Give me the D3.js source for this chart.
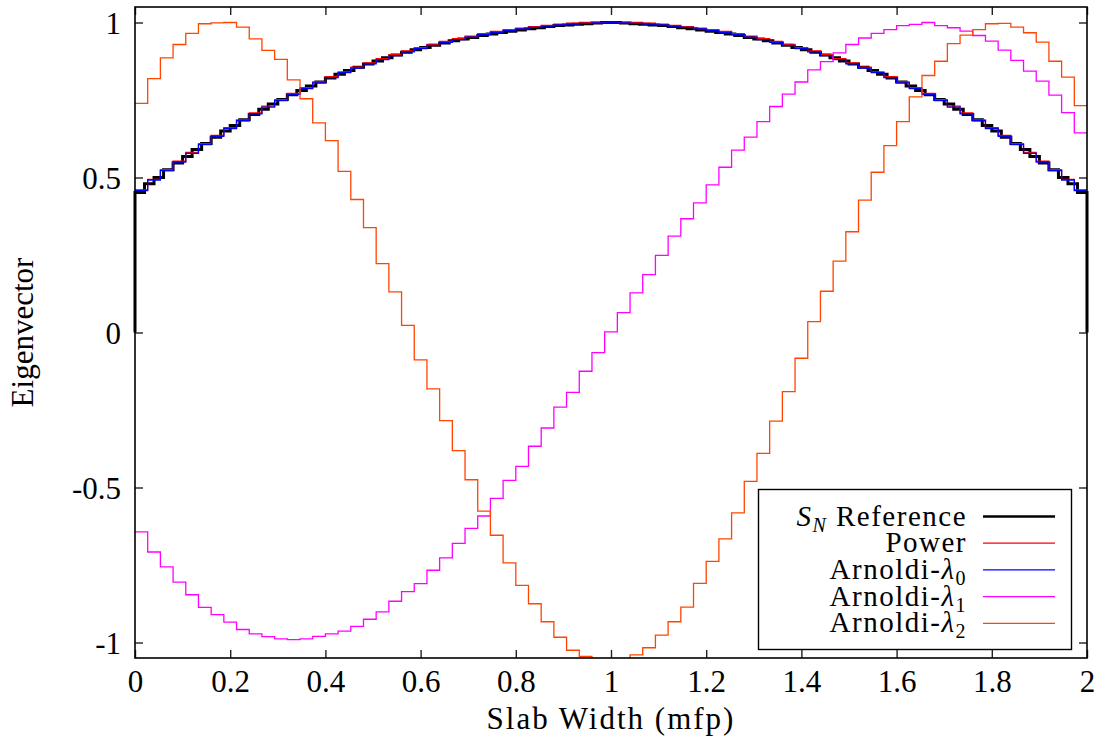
<!DOCTYPE html>
<html>
<head>
<meta charset="utf-8">
<script src="https://cdn.jsdelivr.net/npm/d3@7/dist/d3.min.js"></script>
<style>
  body { margin: 0; background: #fff; }
  svg text { font-family: "Liberation Serif", "Times New Roman", "DejaVu Serif", serif; font-size: 31px; fill: #000; }
</style>
</head>
<body>
<svg id="chart" width="1107" height="744"></svg>
<script>

// slab goes 0..2 mfp, every series is one value per cell
var xDomain = [0, 2];
var yDomain = [-1.05, 1.05];
var xTicks = [0, 0.2, 0.4, 0.6, 0.8, 1, 1.2, 1.4, 1.6, 1.8, 2];
var yTicks = [-1, -0.5, 0, 0.5, 1];

// S_N reference, 100 cells
var refValues = [
  0.452, 0.48, 0.5, 0.525, 0.547, 0.568, 0.59, 0.61, 0.63, 0.65,
  0.668, 0.686, 0.703, 0.72, 0.737, 0.752, 0.767, 0.781, 0.795, 0.808,
  0.821, 0.833, 0.845, 0.856, 0.866, 0.876, 0.886, 0.895, 0.904, 0.912,
  0.919, 0.927, 0.934, 0.941, 0.947, 0.952, 0.958, 0.963, 0.968, 0.972,
  0.976, 0.98, 0.983, 0.987, 0.99, 0.992, 0.994, 0.996, 0.998, 1.0,
  1.0, 0.998, 0.996, 0.994, 0.992, 0.99, 0.987, 0.983, 0.98, 0.976,
  0.972, 0.968, 0.963, 0.958, 0.952, 0.947, 0.941, 0.934, 0.927, 0.919,
  0.912, 0.904, 0.895, 0.886, 0.876, 0.866, 0.856, 0.845, 0.833, 0.821,
  0.808, 0.795, 0.781, 0.767, 0.752, 0.737, 0.72, 0.703, 0.686, 0.668,
  0.65, 0.63, 0.61, 0.59, 0.568, 0.547, 0.525, 0.5, 0.48, 0.452
];

// the rest are 75 cells
var powerValues = [
  0.46, 0.494, 0.525, 0.553, 0.581, 0.609, 0.636, 0.661, 0.686, 0.708,
  0.73, 0.751, 0.771, 0.79, 0.808, 0.825, 0.841, 0.856, 0.87, 0.883,
  0.896, 0.908, 0.919, 0.929, 0.939, 0.948, 0.956, 0.964, 0.971, 0.977,
  0.982, 0.987, 0.991, 0.995, 0.998, 1.0, 1.0, 1.0, 1.0, 1.0,
  0.998, 0.995, 0.991, 0.987, 0.982, 0.977, 0.971, 0.964, 0.956, 0.948,
  0.939, 0.929, 0.919, 0.908, 0.896, 0.883, 0.87, 0.856, 0.841, 0.825,
  0.808, 0.79, 0.771, 0.751, 0.73, 0.708, 0.686, 0.661, 0.636, 0.609,
  0.581, 0.553, 0.525, 0.494, 0.46
];

var arnoldi0 = [
  0.458, 0.492, 0.522, 0.55, 0.578, 0.606, 0.633, 0.658, 0.683, 0.705,
  0.727, 0.748, 0.768, 0.787, 0.805, 0.822, 0.838, 0.853, 0.867, 0.88,
  0.893, 0.905, 0.916, 0.926, 0.936, 0.945, 0.953, 0.961, 0.968, 0.974,
  0.979, 0.984, 0.988, 0.992, 0.995, 0.997, 0.999, 1.0, 0.999, 0.997,
  0.995, 0.992, 0.988, 0.984, 0.979, 0.974, 0.968, 0.961, 0.953, 0.945,
  0.936, 0.926, 0.916, 0.905, 0.893, 0.88, 0.867, 0.853, 0.838, 0.822,
  0.805, 0.787, 0.768, 0.748, 0.727, 0.705, 0.683, 0.658, 0.633, 0.606,
  0.578, 0.55, 0.522, 0.492, 0.458
];

var arnoldi1 = [
  -0.643, -0.708, -0.756, -0.805, -0.846, -0.887, -0.91, -0.934, -0.958, -0.972,
  -0.981, -0.988, -0.991, -0.988, -0.98, -0.972, -0.963, -0.948, -0.925, -0.901,
  -0.867, -0.836, -0.81, -0.767, -0.727, -0.68, -0.632, -0.592, -0.535, -0.477,
  -0.432, -0.367, -0.308, -0.241, -0.193, -0.125, -0.065, 0.002, 0.064, 0.128,
  0.187, 0.249, 0.311, 0.367, 0.418, 0.476, 0.533, 0.588, 0.63, 0.68,
  0.729, 0.769, 0.808, 0.847, 0.874, 0.902, 0.929, 0.95, 0.965, 0.977,
  0.99, 0.994, 1.0, 0.99, 0.983, 0.972, 0.958, 0.94, 0.911, 0.878,
  0.843, 0.811, 0.766, 0.709, 0.644
];

var arnoldi2 = [
  0.739, 0.819, 0.886, 0.929, 0.965, 0.996, 0.999, 1.0, 0.985, 0.947,
  0.91, 0.881, 0.815, 0.754, 0.676, 0.619, 0.52, 0.429, 0.338, 0.222,
  0.131, 0.023, -0.088, -0.182, -0.284, -0.381, -0.475, -0.576, -0.654, -0.743,
  -0.816, -0.875, -0.933, -0.983, -1.025, -1.045, -1.06, -1.065, -1.06, -1.04,
  -1.017, -0.976, -0.933, -0.886, -0.809, -0.738, -0.666, -0.582, -0.48, -0.39,
  -0.286, -0.191, -0.083, 0.035, 0.133, 0.23, 0.325, 0.427, 0.517, 0.603,
  0.68, 0.76, 0.829, 0.875, 0.932, 0.959, 0.977, 0.996, 0.997, 0.985,
  0.967, 0.937, 0.875, 0.824, 0.732
];

var seriesNames = ["S_N Reference", "Power", "Arnoldi-0", "Arnoldi-1", "Arnoldi-2"];
var seriesColors = ["#000000", "#ff0000", "#0000ff", "#ff00ff", "#ff4500"];

var fontStack = '"Liberation Serif", "Times New Roman", "DejaVu Serif", serif';

var svg = d3.select('#chart'),
    margin = {top: 7, right: 20, bottom: 86, left: 135};
var width  = +svg.attr("width") - margin.left - margin.right;
var height = +svg.attr("height") - margin.top - margin.bottom;
var canvas = svg.append("g").attr("transform", "translate(" + margin.left + "," + margin.top + ")");

var x = d3.scaleLinear().domain(xDomain).range([0, width]);
var y = d3.scaleLinear().domain(yDomain).range([height, 0]);

// turn a list of cell values into step points (left edge of each cell + closing point)
function cellPoints(values) {
  var dx = (xDomain[1] - xDomain[0]) / values.length;
  var pts = values.map(function(v, i) { return {x: xDomain[0] + i * dx, v: v}; });
  pts.push({x: xDomain[1], v: values[values.length - 1]});
  return pts;
}

var stepLine = d3.line()
    .x(function(d) { return x(d.x); })
    .y(function(d) { return y(d.v); })
    .curve(d3.curveStepAfter);

canvas.append("clipPath").attr("id", "plotClip")
  .append("rect")
    .attr("x", -3).attr("y", 0)
    .attr("width", width + 6).attr("height", height);

var plot = canvas.append("g").attr("clip-path", "url(#plotClip)");

// reference drops to zero at both faces of the slab
var refPts = [{x: xDomain[0], v: 0}].concat(cellPoints(refValues));
refPts.push({x: xDomain[1], v: 0});

var series = [
  {pts: refPts, color: seriesColors[0], w: 3},
  {pts: cellPoints(powerValues), color: seriesColors[1], w: 1.3},
  {pts: cellPoints(arnoldi0), color: seriesColors[2], w: 1.3},
  {pts: cellPoints(arnoldi1), color: seriesColors[3], w: 1.3},
  {pts: cellPoints(arnoldi2), color: seriesColors[4], w: 1.3}
];

plot.selectAll("path.series")
    .data(series)
  .enter().append("path")
    .attr("class", "series")
    .attr("d", function(d) { return stepLine(d.pts); })
    .style("fill", "none")
    .style("stroke", function(d) { return d.color; })
    .style("stroke-width", function(d) { return d.w; })
    .style("stroke-linejoin", "miter");

// axes: ticks point inward, mirrored on top/right like gnuplot
var tickLen = 8;
var xAxis = d3.axisBottom(x).tickValues(xTicks).tickSize(-tickLen).tickPadding(12).tickFormat(function(d) { return String(d); });
var xAxisTop = d3.axisTop(x).tickValues(xTicks).tickSize(-tickLen).tickFormat("");
var yAxis = d3.axisLeft(y).tickValues(yTicks).tickSize(-tickLen).tickPadding(14).tickFormat(function(d) { return String(d); });
var yAxisRight = d3.axisRight(y).tickValues(yTicks).tickSize(-tickLen).tickFormat("");

var gx = canvas.append("g").attr("transform", "translate(0," + height + ")").call(xAxis);
var gxt = canvas.append("g").call(xAxisTop);
var gy = canvas.append("g").call(yAxis);
var gyr = canvas.append("g").attr("transform", "translate(" + width + ",0)").call(yAxisRight);

[gx, gxt, gy, gyr].forEach(function(g) {
  g.attr("font-family", null).attr("font-size", null);
  g.select(".domain").remove();
  g.selectAll(".tick line").style("stroke", "#222").style("stroke-width", 1.4);
  g.selectAll("text").style("font-family", fontStack).style("font-size", "31px").style("fill", "#000");
});
gy.selectAll("text").attr("dy", "0.34em");
gx.selectAll("text").attr("dy", "0.71em");

canvas.append("rect")
    .attr("width", width).attr("height", height)
    .style("fill", "none").style("stroke", "#000").style("stroke-width", 1.6);

// axis titles
svg.append("text")
    .attr("transform", "translate(33," + (margin.top + height / 2) + ") rotate(-90)")
    .attr("text-anchor", "middle")
    .style("font-family", fontStack)
    .text("Eigenvector");

svg.append("text")
    .attr("x", margin.left + width / 2)
    .attr("y", 729)
    .attr("text-anchor", "middle")
    .style("font-family", fontStack)
    .style("letter-spacing", "2px")
    .text("Slab Width (mfp)");

// legend
var legend = svg.append("g").attr("transform", "translate(758.5,489.5)");
legend.append("rect")
    .attr("width", 313).attr("height", 160)
    .style("fill", "#fff").style("stroke", "#000").style("stroke-width", 1.4);

var legendW = [2.7, 1.2, 1.2, 1.2, 1.2];

seriesNames.forEach(function(name, i) {
  var cy = 27 + i * 26.7;
  var t = legend.append("text")
      .attr("x", 208.5)
      .attr("y", cy + 9)
      .attr("text-anchor", "end")
      .style("font-family", fontStack)
      .style("font-size", "29px")
      .style("letter-spacing", "1.5px");
  if (name.indexOf("S_N") === 0) {
    t.append("tspan").style("font-style", "italic").text("S");
    t.append("tspan").style("font-style", "italic").style("font-size", "20px").attr("dy", 6).text("N");
    t.append("tspan").attr("dy", -6).text("\u00a0Reference");
  } else if (name.indexOf("Arnoldi-") === 0) {
    t.append("tspan").text("Arnoldi-");
    t.append("tspan").style("font-style", "italic").text("\u03bb");
    t.append("tspan").style("font-size", "20px").attr("dy", 6).text(name.slice(8));
  } else {
    t.text(name);
  }
  legend.append("line")
      .attr("x1", 224.5).attr("x2", 296.5)
      .attr("y1", cy).attr("y2", cy)
      .style("stroke", seriesColors[i])
      .style("stroke-width", legendW[i]);
});

</script>
</body>
</html>
